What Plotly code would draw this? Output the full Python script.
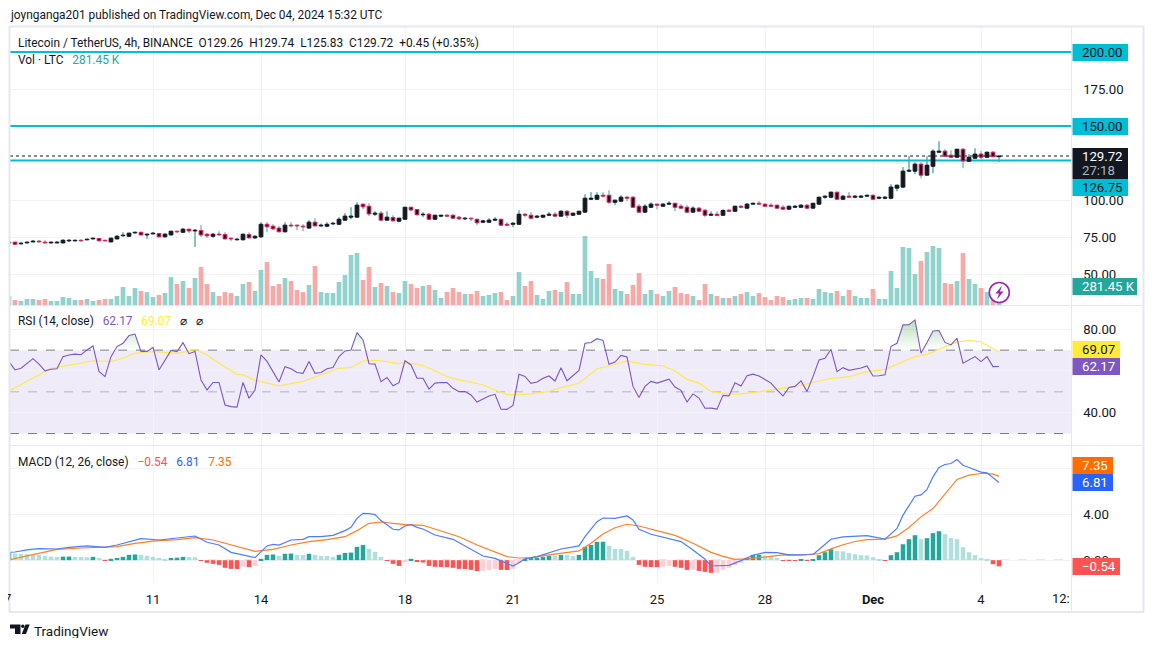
import pandas as pd
import plotly.graph_objects as go

# ---- data (price in USDT, volume in thousands of LTC) ----
start_date = "2024-11-07"
opens = [71.0,71.5,70.4,71.0,71.7,72.2,71.5,71.0,71.0,71.0,
72.4,72.4,72.8,73.1,73.7,74.0,72.8,71.7,73.7,75.8,
75.5,77.8,78.2,76.4,77.1,77.3,75.1,76.4,78.9,78.2,
80.3,79.1,79.4,76.9,75.5,76.9,76.7,74.2,73.1,73.1,
76.7,74.4,75.1,83.6,82.3,81.0,78.5,83.0,83.0,82.3,
81.0,85.0,82.5,82.3,83.9,83.6,86.4,88.4,88.4,97.2,
95.8,90.4,91.1,86.4,88.2,85.7,87.0,95.1,93.6,90.0,
90.4,87.0,89.1,89.7,89.7,88.4,87.3,87.7,87.0,85.0,
85.0,86.4,87.0,83.6,83.6,83.6,90.4,89.7,88.4,88.4,
89.7,90.4,89.1,92.4,89.7,90.4,91.8,100.5,100.5,103.2,
103.2,98.5,99.2,101.9,101.9,95.8,91.8,95.1,97.2,95.8,
97.2,97.8,95.8,95.1,91.8,94.5,93.1,89.7,90.4,89.7,
93.1,92.4,95.8,94.5,97.2,97.8,97.2,96.5,96.5,95.1,
93.8,95.1,95.1,96.5,94.5,97.2,101.9,101.9,105.3,100.5,
102.6,101.9,101.9,102.6,103.2,101.2,101.2,101.2,108.0,108.7,
119.5,119.5,124.2,116.8,122.8,132.3,133.0,130.3,128.9,134.3,
126.2,128.2,131.0,128.9,132.3,129.26]
closes = [71.5,70.1,70.8,71.5,72.2,71.7,71.0,71.5,71.5,72.8,
72.8,72.8,72.4,73.5,74.2,72.4,72.4,74.2,75.5,76.2,
77.6,78.2,76.4,76.9,77.6,75.1,76.9,78.9,78.5,80.3,
79.1,79.6,76.4,75.8,76.9,76.4,73.7,73.7,73.5,76.9,
74.4,75.5,83.6,81.9,80.5,78.5,83.0,82.5,82.5,81.9,
85.0,82.5,83.0,83.6,84.3,87.0,89.1,89.1,96.5,95.4,
90.6,91.1,86.4,88.4,85.9,87.7,95.1,93.3,90.0,90.4,
87.0,89.7,89.7,89.1,87.7,87.3,87.7,87.3,84.6,85.9,
86.4,87.0,83.0,83.0,84.3,90.4,89.7,87.7,89.1,89.7,
90.4,89.1,92.4,89.7,91.1,92.4,101.2,101.2,103.2,102.6,
98.5,99.9,101.9,101.2,95.1,91.8,95.8,97.2,96.5,97.2,
97.8,95.1,94.5,91.8,94.5,92.4,89.7,90.4,89.5,92.9,
92.4,95.8,95.1,97.2,97.8,97.2,95.8,95.8,94.5,93.8,
95.8,95.8,96.5,94.5,97.8,101.9,102.6,105.3,100.5,102.6,
101.9,102.6,102.6,103.2,100.5,101.9,101.9,108.7,110.0,119.5,
120.1,124.2,116.8,123.5,133.0,133.0,129.6,128.9,134.3,126.4,
128.9,131.0,128.9,132.3,129.26,129.72]
highs = [71.5,71.5,71.5,71.5,72.8,72.8,72.8,71.5,72.2,73.5,
73.5,72.8,73.5,73.5,74.2,74.0,72.8,74.2,76.2,78.2,
77.6,78.2,78.2,76.9,78.2,77.3,77.6,78.9,78.9,81.0,
80.3,80.3,83.0,77.6,77.6,78.9,78.2,74.2,74.2,76.9,
78.2,76.2,85.0,85.0,83.6,82.3,85.0,85.0,83.0,83.6,
86.4,87.7,84.1,85.0,85.0,88.4,91.1,95.1,98.5,97.2,
97.8,92.4,92.4,92.4,89.7,87.7,95.1,95.1,93.6,91.8,
91.1,89.7,89.7,90.4,90.4,89.1,88.4,87.7,87.0,86.6,
87.7,88.4,87.0,85.0,85.0,93.1,91.1,91.8,89.7,89.7,
91.8,91.8,93.1,93.1,91.1,92.4,103.9,105.3,105.3,105.3,
106.6,99.9,103.2,102.6,102.6,97.2,97.2,98.5,97.2,97.8,
99.2,97.8,97.2,96.5,95.8,95.1,93.8,92.4,92.4,93.8,
93.8,95.8,96.5,97.8,97.8,99.2,97.2,97.8,96.5,96.5,
95.8,96.5,97.2,97.2,97.8,101.9,102.6,105.3,105.3,103.2,
105.3,103.2,103.2,103.2,103.7,101.9,102.6,110.7,110.0,122.2,
129.6,125.5,125.5,129.6,134.3,139.7,134.3,133.6,134.3,135.0,
131.0,135.0,133.0,132.3,133.0,129.74]
lows = [71.0,70.1,70.1,71.0,71.7,71.7,71.0,71.0,71.0,71.0,
71.7,72.4,72.4,73.1,73.7,72.4,72.4,71.7,73.7,75.8,
75.5,77.3,76.4,73.7,77.1,75.1,75.1,76.4,78.0,77.8,
77.8,68.3,75.1,74.4,74.4,76.4,73.7,72.2,73.1,73.1,
74.4,73.7,74.4,78.2,79.6,78.5,78.5,81.6,79.6,78.9,
81.0,82.5,81.9,82.3,83.0,83.6,86.4,87.0,88.4,93.8,
89.1,89.1,86.4,86.4,85.9,85.0,87.0,92.4,90.0,88.4,
86.4,87.0,88.4,88.4,87.0,86.4,86.4,85.7,83.0,84.3,
85.0,85.7,82.3,83.0,81.6,83.6,88.4,87.0,87.7,88.4,
89.1,89.1,89.1,87.7,89.7,90.4,91.8,100.5,100.5,101.9,
97.2,96.5,99.2,99.2,95.1,91.8,91.8,95.1,93.8,95.8,
97.2,92.4,93.8,91.1,91.8,92.4,88.4,89.7,89.1,89.7,
91.8,92.4,94.5,93.8,97.2,97.2,95.8,95.8,94.5,93.8,
93.8,94.5,95.1,94.5,94.5,97.2,100.8,101.2,100.5,100.5,
101.9,101.2,101.9,102.6,99.9,100.5,100.5,100.5,105.9,108.0,
119.0,117.4,114.7,116.8,118.1,132.3,129.6,128.9,128.9,121.5,
126.2,128.2,127.6,128.9,129.26,125.83]
volumes = [133,74,59,89,89,74,89,59,59,118,
104,74,74,89,59,74,89,89,133,266,
133,251,207,192,118,148,177,414,311,355,
251,399,562,311,192,133,192,177,133,311,
340,207,518,636,281,311,399,355,222,192,
296,577,192,177,177,340,444,740,769,370,
562,266,325,281,192,177,355,311,251,281,
296,222,104,192,251,192,163,163,207,133,
148,177,192,74,133,488,281,355,148,89,
207,222,192,340,163,163,1021,503,399,385,
606,237,207,163,296,473,163,222,163,133,
207,266,177,163,133,74,311,163,133,104,
104,133,163,192,133,177,118,74,133,118,
74,89,104,104,89,237,192,177,207,133,
222,133,104,104,237,89,89,503,251,858,
843,458,651,784,873,843,325,311,355,769,
385,311,251,192,148,281.45]
rsi = [64.5,60.5,61.3,63.7,65.9,63.3,60.1,60.8,61.1,66.9,
67.7,68.1,67.8,70.1,72.0,59.8,57.3,66.9,71.7,73.3,
77.0,77.7,69.4,69.4,71.3,60.5,65.3,69.9,69.3,73.6,
68.3,69.4,55.7,50.9,54.5,54.5,43.7,42.9,42.7,54.5,
46.9,50.9,67.7,64.6,59.7,54.7,62.1,61.1,59.3,58.9,
64.5,58.9,59.3,61.1,61.7,66.9,69.6,70.1,78.4,74.9,
63.5,63.3,54.9,56.9,52.9,54.4,64.9,62.9,56.5,56.5,
51.3,54.2,54.5,54.4,51.7,50.1,50.1,48.5,45.1,46.4,
48.0,48.8,41.7,41.6,43.5,58.4,57.4,54.1,54.7,56.5,
57.6,55.2,61.6,55.3,57.6,60.3,73.3,73.7,75.5,74.7,
63.2,64.3,67.5,66.7,52.6,47.3,52.6,55.0,54.2,55.3,
56.1,52.3,50.7,45.1,49.0,47.0,42.1,42.2,41.7,48.3,
48.1,54.4,52.8,57.7,58.5,57.6,55.7,54.2,50.9,48.0,
52.1,52.6,55.3,50.1,57.3,65.3,66.1,70.4,59.7,61.6,
60.3,60.8,61.4,62.4,57.6,57.7,58.2,71.8,73.3,82.1,
82.2,84.5,68.5,73.7,79.2,79.4,73.7,72.5,75.7,63.7,
65.3,66.9,64.5,66.9,62.1,62.17]
rsi_ma_index = [0,3,7,11,14,17,19,21,24,28,31,33,35,38,39,41,45,49,53,55,57,59,61,63,65,
66,68,69,71,73,75,79,81,83,84,87,90,92,95,98,100,103,106,109,111,113,115,117,119,121,124,127,130,132,134,
137,140,143,146,149,151,153,156,158,160,162,165]
rsi_ma = [50.4,54.9,61.3,63.3,64.9,64.5,66.1,68.5,69.4,68.5,70.4,67.7,63.7,58.5,58.1,55.5,52.9,55.0,59.3,61.3,61.7,64.8,65.1,64.5,63.5,
64.0,63.3,62.5,60.1,57.3,55.7,53.4,50.9,48.8,48.5,49.0,50.2,52.0,54.1,61.1,62.4,64.8,63.2,62.5,60.0,56.0,54.2,50.1,49.3,48.8,49.6,50.7,52.1,53.1,54.4,
56.5,57.3,59.7,60.8,64.5,66.9,68.0,71.7,73.9,74.7,73.9,69.07]
macd_hist = [.70,.58,.56,.54,.50,.47,.38,.32,.29,.31,
.32,.29,.28,.26,.29,.20,-.06,.12,.20,.29,
.47,.50,.47,.38,.29,.20,.12,.20,.22,.29,
.28,.26,-.06,-.23,-.32,-.41,-.67,-.76,-.77,-.58,
-.61,-.50,.12,.47,.50,.38,.56,.58,.47,.45,
.56,.47,.38,.37,.29,.47,.64,.67,1.17,1.34,
.99,.73,.29,-.06,-.32,-.50,-.09,.12,-.12,-.20,
-.50,-.58,-.60,-.61,-.67,-.76,-.77,-.85,-.96,-.94,
-.85,-.76,-.85,-.86,-.76,-.23,.03,.20,.22,.29,
.38,.37,.47,.45,.38,.47,1.17,1.34,1.61,1.62,
1.26,.99,.98,.82,.29,-.41,-.58,-.60,-.61,-.58,
-.50,-.58,-.67,-.85,-.83,-.94,-1.02,-1.11,-1.10,-.85,
-.67,-.41,-.23,.20,.47,.48,.38,.35,.20,-.06,
-.065,-.07,.09,-.06,.09,.44,.70,.96,.79,.77,
.61,.53,.44,.42,.26,.09,-.06,.44,.70,1.40,
1.84,2.19,1.84,1.93,2.37,2.54,2.28,1.93,1.84,1.14,
.70,.44,.18,.09,-.35,-.54]
macd_index = [0,1,3,5,8,10,13,16,18,20,22,25,27,29,31,33,35,37,39,41,43,44,45,47,49,50,52,54,56,57,58,59,60,61,62,64,65,
66,67,68,69,71,74,77,79,81,83,84,85,86,88,90,92,95,96,98,99,101,103,104,105,107,110,112,114,116,117,119,120,122,124,126,128,130,
132,134,135,137,139,141,143,146,147,148,149,150,151,152,153,154,155,156,157,158,159,160,161,162,163,164,165]
macd_line = [.69,.72,.90,1.01,.98,1.13,1.25,1.13,1.33,1.60,1.89,1.77,1.89,2.06,2.12,1.57,1.33,.69,.43,.22,1.25,1.39,1.33,1.77,1.83,2.06,2.06,2.18,2.59,2.88,3.67,4.11,4.08,3.99,3.47,2.71,2.65,
3.0,3.12,2.88,2.74,2.21,1.83,.95,.37,.16,-.33,-.51,-.22,.13,.31,.66,.98,1.25,2.06,3.38,3.70,3.67,3.88,3.53,2.71,2.27,1.92,1.63,.90,.08,-.51,-.51,-.45,-.04,.43,.69,.66,.46,
.50,.50,.94,1.84,2.05,2.11,2.16,1.84,2.34,2.78,3.95,4.82,5.61,5.73,6.2,7.31,8.13,8.39,8.48,8.83,8.33,8.13,7.95,7.72,7.66,7.25,6.81]
signal_index = [0,2,5,8,12,16,18,21,24,28,31,34,37,41,44,47,50,53,56,58,60,62,64,66,69,72,75,78,81,83,85,87,90,93,95,97,99,101,103,105,108,111,114,117,119,121,123,126,129,132,
135,137,139,141,143,146,148,150,152,154,156,158,160,162,163,164,165]
signal_line = [.02,.25,.60,.95,1.07,1.13,1.19,1.48,1.68,1.80,1.98,1.77,1.33,.78,.95,1.33,1.63,1.80,2.06,2.59,3.23,3.35,3.23,3.12,3.06,2.59,2.06,1.33,.72,.31,.19,.22,.46,.66,.81,1.48,2.30,2.85,3.15,3.0,2.59,2.18,1.48,.69,.34,.08,.11,.31,.46,.44,
.58,.99,1.35,1.64,1.81,1.84,2.13,2.87,3.80,4.53,5.85,7.08,7.46,7.60,7.60,7.54,7.35]
price_levels = [200, 150, 126.75]
last_price = 129.72
x_tick_days = ["2024-11-11","2024-11-14","2024-11-18","2024-11-21","2024-11-25","2024-11-28","2024-12-01","2024-12-04"]
x_tick_text = ["11","14","18","21","25","28","<b>Dec</b>","4"]
price_ticks = [50, 75, 100, 125, 150, 175, 200]
price_tick_text = ["50.00", "75.00", "100.00", "", "", "175.00", ""]
rsi_ticks = [40, 60, 80]
rsi_tick_text = ["40.00", "", "80.00"]
macd_ticks = [0, 4, 8]
macd_tick_text = ["0.00", "4.00", ""]

assert all(len(a) == 166 for a in (opens, closes, highs, lows, volumes, rsi, macd_hist))
assert len(rsi_ma) == len(rsi_ma_index) and len(macd_line) == len(macd_index) and len(signal_line) == len(signal_index)

# ---- page geometry: figure sits at (8,8) because of the browser's body margin ----
W, H = 1138, 630
def X(p): return (p - 8) / W
def Y(p): return 1 - (p - 8) / H

INK = "#131722"
GRID = "#f2f3f7"
EDGE = "#e6e8ef"
FONT = "Roboto"
UP_V, DOWN_V = "#92d2cc", "#f7a9a7"
dates = pd.date_range(start_date, periods=166, freq="4h")
BAR = 4 * 3600 * 1000
x_range = [dates[0] + pd.Timedelta(minutes=40), dates[0] + pd.Timedelta(hours=708, minutes=20)]

def py(p):  # price scale: value at pixel row, for the axis range only
    return 50 + (274.0 - p) / 1.48
price_range = [py(305), py(27)]

fig = go.Figure()

# volume (base axis, so it sits behind the candles)
fig.add_bar(x=dates, y=volumes, width=BAR * 0.78, yaxis="y", xaxis="x",
            marker=dict(color=[UP_V if c >= o else DOWN_V for o, c in zip(opens, closes)], line_width=0))

# price levels
for lv in price_levels:
    fig.add_scatter(x=x_range, y=[lv, lv], mode="lines", line=dict(color="#00bcd4", width=2), xaxis="x", yaxis="y2")
fig.add_scatter(x=x_range, y=[last_price, last_price], mode="lines", line=dict(color=INK, width=1, dash="dot"), xaxis="x", yaxis="y2")

# candles: wicks from the candlestick trace, bodies on an overlaid axis above them
fig.add_candlestick(x=dates, open=opens, high=highs, low=lows, close=closes, yaxis="y2", xaxis="x", whiskerwidth=0,
                    increasing=dict(line=dict(color="#14897a", width=1), fillcolor="rgba(0,0,0,0)"),
                    decreasing=dict(line=dict(color="#4caf6a", width=1), fillcolor="rgba(0,0,0,0)"))
fig.add_bar(x=dates, y=[abs(c - o) for o, c in zip(opens, closes)], base=[min(o, c) for o, c in zip(opens, closes)],
            width=BAR * 0.62, yaxis="y5", xaxis="x",
            marker=dict(color=INK, line=dict(width=1, color=[INK if c >= o else "#e91e63" for o, c in zip(opens, closes)])))

# RSI: green gradient above 70
fx, fy = [], []
for i in range(len(rsi)):
    if i:
        a, b = rsi[i - 1], rsi[i]
        if (a - 70) * (b - 70) < 0:
            fx.append(dates[i - 1] + (dates[i] - dates[i - 1]) * ((70 - a) / (b - a)))
            fy.append(70)
    fx.append(dates[i])
    fy.append(max(rsi[i], 70))
fig.add_scatter(x=fx, y=[70] * len(fx), mode="lines", line=dict(width=0), xaxis="x2", yaxis="y3")
fig.add_scatter(x=fx, y=fy, mode="lines", line=dict(width=0), xaxis="x2", yaxis="y3", fill="tonexty",
                fillgradient=dict(type="vertical", start=70, stop=85,
                                  colorscale=[[0, "rgba(76,175,80,0)"], [1, "rgba(76,175,80,0.42)"]]))
fig.add_scatter(x=dates[rsi_ma_index], y=rsi_ma, mode="lines", line=dict(color="#ffe94d", width=1.2), xaxis="x2", yaxis="y3")
fig.add_scatter(x=dates, y=rsi, mode="lines", line=dict(color="#7e57c2", width=1.1), xaxis="x2", yaxis="y3")

# MACD
hist_colors = []
for i, v in enumerate(macd_hist):
    prev = macd_hist[i - 1] if i else -9
    if v >= 0:
        hist_colors.append("#26a69a" if v >= prev else "#b2dfdb")
    else:
        hist_colors.append("#ff5252" if v < prev else "#ffcdd2")
fig.add_bar(x=dates, y=macd_hist, width=BAR * 0.76, marker=dict(color=hist_colors, line_width=0), xaxis="x3", yaxis="y4")
fig.add_scatter(x=dates[signal_index], y=signal_line, mode="lines", line=dict(color="#ff7f27", width=1.2), xaxis="x3", yaxis="y4")
fig.add_scatter(x=dates[macd_index], y=macd_line, mode="lines", line=dict(color="#4f7cff", width=1.2), xaxis="x3", yaxis="y4")

# pane guides
fig.add_shape(type="rect", xref="x2 domain", yref="y3", x0=0, x1=1, y0=30, y1=70, fillcolor="rgba(126,87,194,0.12)", line_width=0, layer="below")
for lv, col in ((70, "#787b86"), (30, "#787b86"), (50, "#b2b5be")):
    fig.add_shape(type="line", xref="x2 domain", yref="y3", x0=0, x1=1, y0=lv, y1=lv, line=dict(color=col, width=1, dash="dash"), layer="below")
fig.add_shape(type="line", xref="x3 domain", yref="y4", x0=0, x1=1, y0=0, y1=0, line=dict(color="#b2b5be", width=1, dash="dash"), layer="below")

def line(x0, y0, x1, y1, col=EDGE, w=1):
    fig.add_shape(type="line", xref="paper", yref="paper", x0=X(x0), x1=X(x1), y0=Y(y0), y1=Y(y1), line=dict(color=col, width=w))

# frame and separators
line(9.5, 26.5, 1144, 26.5, EDGE, 2)
line(9.5, 26, 9.5, 612, EDGE, 2)
line(1143.5, 26, 1143.5, 612, EDGE, 2)
line(9, 612, 1144, 612, EDGE, 2)
line(10, 305.5, 1144, 305.5)
line(10, 445.5, 1144, 445.5)
line(1071.5, 26, 1071.5, 612)

# tags on the price scale
def text(x, y, s, size=13, color=INK, anchor="left", weight=400):
    fig.add_annotation(xref="paper", yref="paper", x=X(x), y=Y(y), text=s, showarrow=False, xanchor=anchor, yanchor="middle",
                       font=dict(family=FONT, size=size, color=color, weight=weight), borderpad=0, align=anchor)

def tag(y0, y1, x1, fill, labels, x0=1072.5):
    fig.add_shape(type="rect", xref="paper", yref="paper", x0=X(x0), x1=X(x1), y0=Y(y0), y1=Y(y1), fillcolor=fill, line_width=0)
    for y, s, c in labels:
        text(1081, y, s, 13.2, c)

tag(44, 61, 1128, "#00bcd4", [(52.5, "200.00", INK)])
tag(118, 135, 1128, "#00bcd4", [(126.5, "150.00", INK)])
tag(148, 179, 1128, INK, [(156.5, "129.72", "#ffffff"), (171, "27:18", "#b2b5be")])
tag(179, 196, 1128, "#00bcd4", [(187.5, "126.75", INK)])
tag(278, 295, 1137, "#26a69a", [(286.5, "281.45 K", "#ffffff")])
tag(341, 358, 1120, "#ffeb3b", [(349.5, "69.07", INK)])
tag(358, 375, 1120, "#7e57c2", [(366.5, "62.17", "#ffffff")])
tag(457, 474, 1113, "#ff6d00", [(465.5, "7.35", "#ffffff")])
tag(474, 491, 1113, "#2962ff", [(482.5, "6.81", "#ffffff")])
tag(558, 575, 1120, "#ff5252", [(566.5, "−0.54", "#ffffff")])

# header and legends
LEG = 11.9
text(8.5, 15.5, "joynganga201 published on TradingView.com, Dec 04, 2024 15:32 UTC", LEG)
text(17, 43, "Litecoin / TetherUS, 4h, BINANCE&nbsp;&nbsp;O129.26&nbsp;&nbsp;H129.74&nbsp;&nbsp;L125.83&nbsp;&nbsp;C129.72&nbsp;&nbsp;+0.45 (+0.35%)", LEG)
text(17, 60, 'Vol · LTC&nbsp;&nbsp;&nbsp;<span style="color:#26a69a">281.45 K</span>', LEG)
text(17, 321, 'RSI (14, close)&nbsp;&nbsp;&nbsp;<span style="color:#7e57c2">62.17</span>&nbsp;&nbsp;&nbsp;<span style="color:#ffeb3b">69.07</span>&nbsp;&nbsp;&nbsp;⌀&nbsp;&nbsp;&nbsp;⌀', LEG)
text(17, 462, 'MACD (12, 26, close)&nbsp;&nbsp;&nbsp;<span style="color:#ff5252">−0.54</span>&nbsp;&nbsp;&nbsp;<span style="color:#2962ff">6.81</span>&nbsp;&nbsp;&nbsp;<span style="color:#ff6d00">7.35</span>', LEG)

# clipped axis labels at both ends
text(1061, 598, "12:", 13, INK, "center")
text(7.5, 598, "7", 13, INK, "center")

# bolt badge
cx, cy, r = 999.3, 292.5, 10
fig.add_shape(type="circle", xref="paper", yref="paper", x0=X(cx - r), x1=X(cx + r), y0=Y(cy - r), y1=Y(cy + r), fillcolor="#ffffff", line=dict(color="#9c27b0", width=1.6))
bolt = [(1002, 285.5), (995.5, 293.5), (999, 293.5), (997, 299.5), (1003.5, 291.5), (1000, 291.5)]
fig.add_shape(type="path", xref="paper", yref="paper", fillcolor="#9c27b0", line_width=0,
              path="M" + " L".join(f"{X(a):.5f},{Y(b):.5f}" for a, b in bolt) + " Z")

# footer logo
logo_a = [(10, 624.5), (20.5, 624.5), (20.5, 634), (15, 634), (15, 628.5), (10, 628.5)]
logo_b = [(25.5, 624.5), (29.7, 624.5), (26, 634), (21.8, 634)]
for pts in (logo_a, logo_b):
    fig.add_shape(type="path", xref="paper", yref="paper", fillcolor=INK, line_width=0,
                  path="M" + " L".join(f"{X(a):.5f},{Y(b):.5f}" for a, b in pts) + " Z")
fig.add_shape(type="circle", xref="paper", yref="paper", x0=X(21), x1=X(24.6), y0=Y(624.5), y1=Y(628.1), fillcolor=INK, line_width=0)
text(32.5, 630.5, "TradingView", 13.5, INK)

xcommon = dict(type="date", range=x_range, domain=[X(10), X(1071.5)], showgrid=True, gridcolor=GRID, gridwidth=1,
               tickmode="array", tickvals=x_tick_days, zeroline=False, showline=False, rangeslider=dict(visible=False))
ycommon = dict(side="right", showgrid=True, gridcolor=GRID, gridwidth=1, zeroline=False, showline=False, ticks="outside", ticklen=8,
               tickcolor="rgba(0,0,0,0)", tickfont=dict(family=FONT, size=13.2, color=INK), tickmode="array", anchor="x")

fig.update_layout(
    width=W, height=H, autosize=False, margin=dict(l=0, r=0, t=0, b=0), paper_bgcolor="#ffffff", plot_bgcolor="rgba(0,0,0,0)",
    showlegend=False, barmode="overlay", boxgap=0.75, hovermode=False, dragmode=False, font=dict(family=FONT, color=INK),
    xaxis=dict(**xcommon, anchor="y", showticklabels=False, ticks=""),
    xaxis2=dict(**xcommon, anchor="y3", showticklabels=False, ticks="", matches="x"),
    xaxis3=dict(**xcommon, anchor="y4", ticktext=x_tick_text, ticks="outside", ticklen=4, tickcolor="rgba(0,0,0,0)",
                tickfont=dict(family=FONT, size=13, color=INK), matches="x"),
    yaxis=dict(domain=[Y(305), Y(27)], range=[0, 278 * 14.8], visible=False, showgrid=False, anchor="x"),
    yaxis2={**ycommon, "domain": [Y(305), Y(27)], "range": price_range, "overlaying": "y", "tickvals": price_ticks, "ticktext": price_tick_text},
    yaxis5=dict(domain=[Y(305), Y(27)], range=price_range, overlaying="y", visible=False, showgrid=False, anchor="x"),
    yaxis3={**ycommon, "anchor": "x2", "domain": [Y(445), Y(305)], "range": [24.5, 91.65], "tickvals": rsi_ticks, "ticktext": rsi_tick_text},
    yaxis4={**ycommon, "anchor": "x3", "domain": [Y(583), Y(445)], "range": [-2.0, 10.1], "tickvals": macd_ticks, "ticktext": macd_tick_text},
)

fig.write_html("out.html")
